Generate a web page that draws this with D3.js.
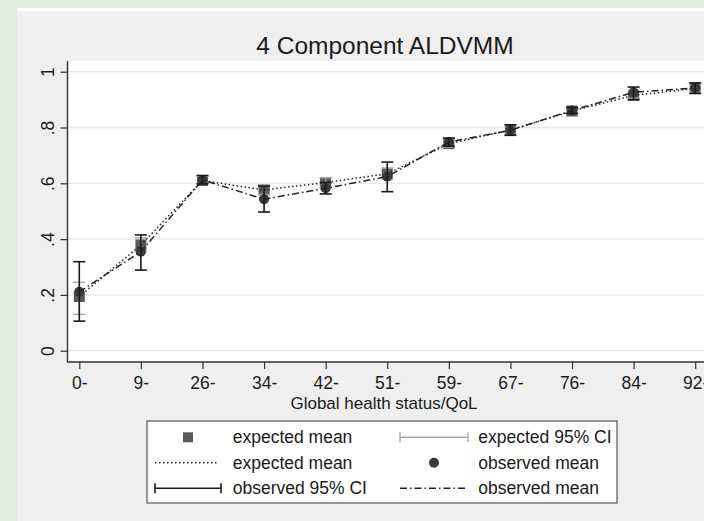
<!DOCTYPE html>
<html lang="en">
  <head>
    <meta charset="UTF-8">
    <title>4 Component ALDVMM</title>
    <script src="https://d3js.org/d3.v7.min.js"></script>
    <style>
      body {
        margin: 0;
        padding: 0;
        background-color: #e1ebe0;
      }
      svg text {
        font-family: 'Liberation Sans', Arial, sans-serif;
        fill: #1a1a1a;
      }
    </style>
  </head>
  <body>
    <svg id="chart" width="704" height="521"></svg>
    <script>
      const categories = ["0-", "9-", "26-", "34-", "42-", "51-", "59-", "67-", "76-", "84-", "92-"];
      const expectedMean = [0.194, 0.379, 0.610, 0.576, 0.603, 0.634, 0.742, 0.791, 0.859, 0.915, 0.940];
      const expectedLo = [0.130, 0.355, 0.600, 0.560, 0.585, 0.615, 0.730, 0.780, 0.850, 0.905, 0.928];
      const expectedHi = [0.245, 0.405, 0.625, 0.595, 0.620, 0.655, 0.755, 0.800, 0.868, 0.930, 0.952];
      const observedMean = [0.211, 0.355, 0.612, 0.543, 0.582, 0.624, 0.748, 0.790, 0.861, 0.926, 0.942];
      const observedLo = [0.106, 0.289, 0.598, 0.497, 0.562, 0.570, 0.733, 0.772, 0.850, 0.900, 0.922];
      const observedHi = [0.319, 0.415, 0.628, 0.590, 0.603, 0.676, 0.762, 0.810, 0.872, 0.945, 0.960];
      const yTicks = [0, 0.2, 0.4, 0.6, 0.8, 1];
      const yTickLabels = ["0", ".2", ".4", ".6", ".8", "1"];

      const rows = categories.map((c, i) => ({
        cat: c,
        em: expectedMean[i], elo: expectedLo[i], ehi: expectedHi[i],
        om: observedMean[i], olo: observedLo[i], ohi: observedHi[i]
      }));

      const svg = d3.select("#chart");

      // graph region
      svg.append("rect").attr("x", 17).attr("y", 8).attr("width", 687).attr("height", 513).attr("fill", "#efefef");
      svg.append("rect").attr("x", 17).attr("y", 8).attr("width", 687).attr("height", 3).attr("fill", "#ffffff");

      const plotLeft = 67.5, plotTop = 61, plotBottom = 362;
      const x = d3.scalePoint().domain(categories).range([79.3, 695.2]);
      const y = d3.scaleLinear().domain([0, 1]).range([350.7, 71.7]);

      svg.append("rect").attr("x", plotLeft).attr("y", plotTop).attr("width", 704 - plotLeft).attr("height", plotBottom - plotTop).attr("fill", "#fff");

      // grid
      svg.append("g").selectAll("line").data(yTicks).join("line")
        .attr("x1", plotLeft).attr("x2", 704)
        .attr("y1", d => y(d)).attr("y2", d => y(d))
        .attr("stroke", "#e8e8e8").attr("stroke-width", 1.3);

      // y axis
      const yAxis = svg.append("g").attr("transform", `translate(${plotLeft},0)`)
        .call(d3.axisLeft(y).tickValues(yTicks).tickSize(7).tickFormat((d, i) => yTickLabels[i]));
      yAxis.select(".domain").remove();
      yAxis.selectAll(".tick line").attr("stroke", "#333").attr("stroke-width", 1.2);
      yAxis.selectAll(".tick text")
        .attr("x", null).attr("dy", null)
        .attr("text-anchor", "middle")
        .attr("transform", "translate(-14,0) rotate(-90)")
        .style("font-size", "17.5px").style("font-family", "'Liberation Sans', Arial, sans-serif").attr("fill", "#1a1a1a");
      svg.append("line").attr("x1", plotLeft).attr("x2", plotLeft).attr("y1", plotTop).attr("y2", plotBottom + 0.5)
        .attr("stroke", "#333").attr("stroke-width", 1.4);

      // x axis
      const xAxis = svg.append("g").attr("transform", `translate(0,${plotBottom})`)
        .call(d3.axisBottom(x).tickSize(7).tickPadding(6));
      xAxis.select(".domain").remove();
      xAxis.selectAll(".tick line").attr("stroke", "#333").attr("stroke-width", 1.2);
      xAxis.selectAll(".tick text")
        .attr("dy", null).attr("y", 27)
        .style("font-size", "17.5px").style("font-family", "'Liberation Sans', Arial, sans-serif").attr("fill", "#1a1a1a");
      svg.append("line").attr("x1", plotLeft).attr("x2", 704).attr("y1", plotBottom).attr("y2", plotBottom)
        .attr("stroke", "#333").attr("stroke-width", 1.4);

      // titles
      svg.append("text").attr("x", 385).attr("y", 54).attr("text-anchor", "middle")
        .style("font-size", "24.5px").text("4 Component ALDVMM");
      svg.append("text").attr("x", 384).attr("y", 409).attr("text-anchor", "middle")
        .style("font-size", "17px").text("Global health status/QoL");

      // marks
      const sq = 11;
      svg.append("g").selectAll("rect").data(rows).join("rect")
        .attr("x", d => x(d.cat) - sq / 2).attr("y", d => y(d.em) - sq / 2)
        .attr("width", sq).attr("height", sq).attr("fill", "#5a5a5a");

      function ciBars(g, lo, hi, color, width) {
        g.selectAll("line.v").data(rows).join("line").attr("class", "v")
          .attr("x1", d => x(d.cat)).attr("x2", d => x(d.cat))
          .attr("y1", d => y(d[lo])).attr("y2", d => y(d[hi]))
          .attr("stroke", color).attr("stroke-width", width);
        [lo, hi].forEach(k => {
          g.selectAll("line.c" + k).data(rows).join("line").attr("class", "c" + k)
            .attr("x1", d => x(d.cat) - 6).attr("x2", d => x(d.cat) + 6)
            .attr("y1", d => y(d[k])).attr("y2", d => y(d[k]))
            .attr("stroke", color).attr("stroke-width", width);
        });
      }
      ciBars(svg.append("g"), "elo", "ehi", "#a8a8a8", 1.4);

      svg.append("path").datum(rows)
        .attr("d", d3.line().x(d => x(d.cat)).y(d => y(d.em)))
        .attr("fill", "none").attr("stroke", "#222").attr("stroke-width", 1.5)
        .attr("stroke-dasharray", "1.5,2.5");

      svg.append("g").selectAll("circle").data(rows).join("circle")
        .attr("cx", d => x(d.cat)).attr("cy", d => y(d.om)).attr("r", 5)
        .attr("fill", "#3a3a3a");

      ciBars(svg.append("g"), "olo", "ohi", "#1a1a1a", 1.6);

      svg.append("path").datum(rows)
        .attr("d", d3.line().x(d => x(d.cat)).y(d => y(d.om)))
        .attr("fill", "none").attr("stroke", "#222").attr("stroke-width", 1.5)
        .attr("stroke-dasharray", "7,3,1.5,3");

      // legend
      const lg = svg.append("g");
      lg.append("rect").attr("x", 147).attr("y", 421).attr("width", 470).attr("height", 82)
        .attr("fill", "#fff").attr("stroke", "#555").attr("stroke-width", 1.2);
      const ry = [437.3, 462.7, 488.3];
      const legendItems = [
        { col: 0, row: 0, kind: "square", label: "expected mean" },
        { col: 1, row: 0, kind: "eci", label: "expected 95% CI" },
        { col: 0, row: 1, kind: "dot", label: "expected mean" },
        { col: 1, row: 1, kind: "circle", label: "observed mean" },
        { col: 0, row: 2, kind: "oci", label: "observed 95% CI" },
        { col: 1, row: 2, kind: "dashdot", label: "observed mean" }
      ];
      const symX = [[155, 221], [400, 468]];
      const textX = [232.7, 478.3];
      legendItems.forEach(it => {
        const [x0, x1] = symX[it.col];
        const cy = ry[it.row];
        const cx = (x0 + x1) / 2;
        if (it.kind === "square") {
          lg.append("rect").attr("x", cx - 5).attr("y", cy - 5).attr("width", 10).attr("height", 10).attr("fill", "#5a5a5a");
        } else if (it.kind === "circle") {
          lg.append("circle").attr("cx", cx).attr("cy", cy).attr("r", 5).attr("fill", "#3a3a3a");
        } else if (it.kind === "eci" || it.kind === "oci") {
          const col = it.kind === "eci" ? "#a8a8a8" : "#1a1a1a";
          const w = it.kind === "eci" ? 1.4 : 1.6;
          lg.append("line").attr("x1", x0).attr("x2", x1).attr("y1", cy).attr("y2", cy).attr("stroke", col).attr("stroke-width", w);
          [x0, x1].forEach(xx => lg.append("line").attr("x1", xx).attr("x2", xx).attr("y1", cy - 5).attr("y2", cy + 5).attr("stroke", col).attr("stroke-width", w));
        } else {
          lg.append("line").attr("x1", x0).attr("x2", it.kind === "dot" ? 218 : x1).attr("y1", cy).attr("y2", cy)
            .attr("stroke", "#222").attr("stroke-width", 1.5)
            .attr("stroke-dasharray", it.kind === "dot" ? "1.5,2.5" : "7,3,1.5,3");
        }
        lg.append("text").attr("x", textX[it.col]).attr("y", cy + 6).style("font-size", "17.5px").text(it.label);
      });
    </script>
  </body>
</html>
